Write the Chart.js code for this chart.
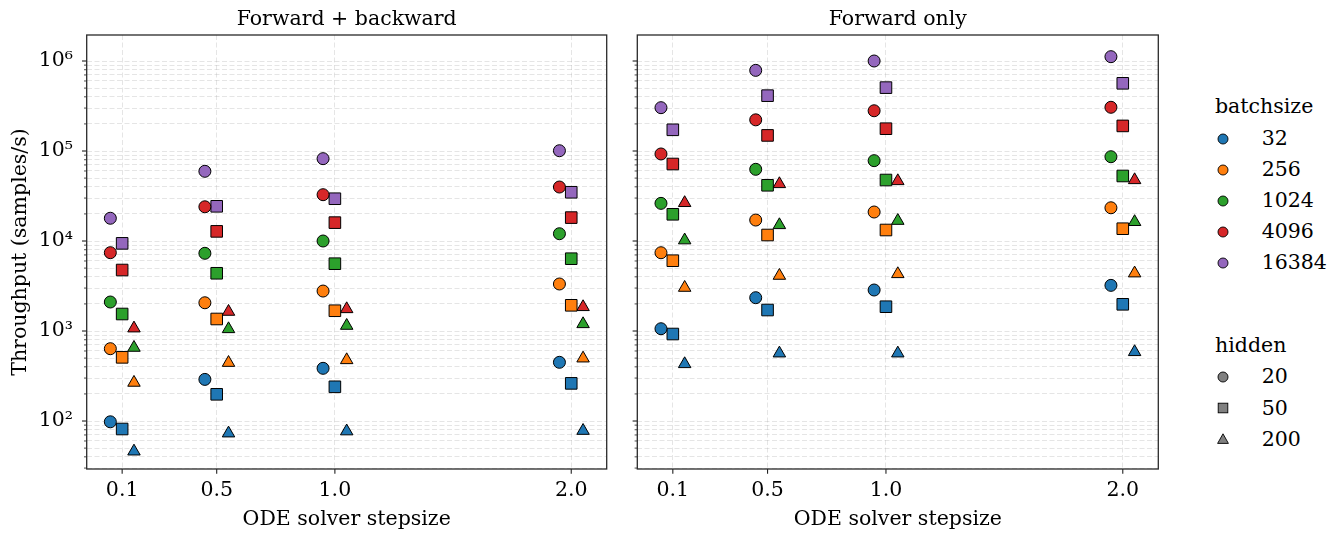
<!DOCTYPE html>
<html><head><meta charset="utf-8">
<script src="https://cdn.jsdelivr.net/npm/chart.js@4"></script>
<style>
html,body{margin:0;padding:0;background:#fff;}
body{width:1341px;height:533px;position:relative;overflow:hidden;font-family:"DejaVu Serif",serif;}
.cw{position:absolute;top:0;height:533px;}
.lt{position:absolute;font-size:20.5px;line-height:24px;color:#000;white-space:nowrap;}
.lm{position:absolute;}
</style></head><body>
<div class="cw" style="left:0;width:620px"><canvas id="c1"></canvas></div>
<div class="cw" style="left:620px;width:560px"><canvas id="c2"></canvas></div>
<div id="legend"></div>
<script>
// ---------------- data ----------------
const stepsizes = [0.1, 0.5, 1.0, 2.0];
const batchsizes = [32, 256, 1024, 4096, 16384];
const hiddenSizes = [20, 50, 200];
const panelTitles = ['Forward + backward', 'Forward only'];
const xAxisTitle = 'ODE solver stepsize';
const yAxisTitle = 'Throughput (samples/s)';
const legendTitles = ['batchsize', 'hidden'];

// rows = batchsize (32..16384), columns = stepsize (0.1, 0.5, 1.0, 2.0)
const fbHidden20 = [
  [98, 290, 385, 449],
  [636, 2060, 2780, 3330],
  [2100, 7300, 10000, 12050],
  [7420, 24000, 32700, 39800],
  [17900, 59500, 82200, 100700]
];
const fbHidden50 = [
  [81.5, 198, 240, 262],
  [510, 1360, 1680, 1930],
  [1545, 4380, 5600, 6360],
  [4760, 12800, 16000, 18200],
  [9420, 24300, 29500, 34800]
];
const fbHidden200 = [
  [46, 73, 77, 78],
  [267, 444, 476, 497],
  [653, 1052, 1146, 1196],
  [1072, 1640, 1755, 1850],
  [null, null, null, null]
];
const foHidden20 = [
  [1060, 2345, 2855, 3215],
  [7410, 17100, 21000, 23400],
  [26200, 62600, 78100, 86400],
  [92700, 222000, 280000, 306000],
  [303000, 787000, 1000000, 1117000]
];
const foHidden50 = [
  [926, 1711, 1862, 1980],
  [6040, 11660, 13250, 13700],
  [19800, 41600, 47600, 52800],
  [71700, 149000, 177000, 190000],
  [172000, 412000, 506000, 565000]
];
const foHidden200 = [
  [430, 565, 565, 585],
  [3030, 4120, 4300, 4380],
  [10200, 15060, 16800, 16300],
  [26500, 43000, 46400, 47600],
  [null, null, null, null]
];

// ---------------- style ----------------
const colors = ['#1f77b4', '#ff7f0e', '#2ca02c', '#d62728', '#9467bd'];
const styles = ['circle', 'rect', 'triangle'];
const radii = [6.0, 8.2, 7.2];
const xOffsets = [-0.05, 0, 0.05];
const FONT = {family: 'DejaVu Serif', size: 20.5, lineHeight: 1.2, weight: 'normal'};
const Y_MIN = 29.3, Y_MAX = 1.945e6;
const X_MIN = -0.05, X_MAX = 2.15;
const GRID = 'rgba(170,170,170,0.38)';
const SUP = {'0':'⁰','1':'¹','2':'²','3':'³','4':'⁴','5':'⁵','6':'⁶','7':'⁷','8':'⁸','9':'⁹'};

Chart.defaults.font.family = 'DejaVu Serif';
Chart.defaults.color = '#000';

function logTicks() {
  const t = [];
  for (let e = 1; e <= 6; e++) {
    for (let m = 1; m <= 9; m++) {
      const v = m * Math.pow(10, e);
      if (v >= Y_MIN && v <= Y_MAX) t.push({value: v, major: m === 1, exp: e});
    }
  }
  return t;
}

function makeDatasets(panel) {
  const ds = [];
  panel.forEach((mat, h) => {
    batchsizes.forEach((b, bi) => {
      const pts = [];
      stepsizes.forEach((s, si) => {
        const v = mat[bi][si];
        if (v !== null) pts.push({x: s + xOffsets[h], y: v});
      });
      if (!pts.length) return;
      ds.push({
        label: b + ' / ' + hiddenSizes[h],
        data: pts,
        pointStyle: styles[h],
        pointRadius: radii[h],
        backgroundColor: colors[bi],
        borderColor: '#000',
        borderWidth: 1,
        showLine: false
      });
    });
  });
  return ds;
}

const framePlugin = {
  id: 'frame',
  afterDraw(chart) {
    const {ctx, chartArea: a} = chart;
    const x = chart.scales.x, y = chart.scales.y;
    ctx.save();
    ctx.strokeStyle = '#222';
    y.ticks.forEach(t => {
      const py = y.getPixelForValue(t.value);
      const len = t.major ? 4.7 : 2.7;
      ctx.lineWidth = t.major ? 1.1 : 0.8;
      ctx.beginPath(); ctx.moveTo(a.left - len, py); ctx.lineTo(a.left, py); ctx.stroke();
    });
    x.ticks.forEach(t => {
      const px = x.getPixelForValue(t.value);
      ctx.lineWidth = 1.1;
      ctx.beginPath(); ctx.moveTo(px, a.bottom); ctx.lineTo(px, a.bottom + 4.7); ctx.stroke();
    });
    ctx.strokeStyle = '#2a2a2a';
    ctx.lineWidth = 1.3;
    ctx.strokeRect(a.left, a.top, a.right - a.left, a.bottom - a.top);
    ctx.restore();
  }
};

function makeChart(id, panel, title, showY, pad, yWidth) {
  return new Chart(document.getElementById(id), {
    type: 'scatter',
    data: {datasets: makeDatasets(panel)},
    plugins: [framePlugin],
    options: {
      responsive: true,
      maintainAspectRatio: false,
      animation: false,
      events: [],
      layout: {padding: pad},
      plugins: {
        legend: {display: false},
        tooltip: {enabled: false},
        title: {display: true, text: title, fullSize: false, font: FONT, color: '#000',
                padding: {top: 7.4, bottom: 3}}
      },
      scales: {
        x: {
          type: 'linear', min: X_MIN, max: X_MAX,
          afterBuildTicks: s => { s.ticks = stepsizes.map(v => ({value: v})); },
          afterFit: s => { s.height = 63; },
          ticks: {autoSkip: false, maxRotation: 0, padding: 9, font: FONT, color: '#000',
                  callback: v => Number(v).toFixed(1)},
          grid: {drawTicks: false, color: GRID, lineWidth: 0.8},
          border: {display: false, dash: [5, 2.5]},
          title: {display: true, text: xAxisTitle, font: FONT, color: '#000', padding: 0}
        },
        y: {
          type: 'logarithmic', min: Y_MIN, max: Y_MAX,
          afterBuildTicks: s => { s.ticks = logTicks(); },
          afterFit: s => { s.width = yWidth; },
          ticks: {display: showY, autoSkip: false, padding: 13.7, font: FONT, color: '#000',
                  callback: (v, i, ts) => ts[i] && ts[i].major ? '10' + SUP[String(ts[i].exp)] : ''},
          grid: {drawTicks: false, color: GRID, lineWidth: 0.8},
          border: {display: false, dash: [5, 2.5]},
          title: {display: showY, text: yAxisTitle, font: FONT, color: '#000', padding: 0}
        }
      }
    }
  });
}

makeChart('c1', [fbHidden20, fbHidden50, fbHidden200], panelTitles[0], true,
          {left: 8, right: 13.3, top: 0, bottom: 1}, 78.7);
makeChart('c2', [foHidden20, foHidden50, foHidden200], panelTitles[1], false,
          {left: 0, right: 21.7, top: 0, bottom: 1}, 17.3);

// ---------------- legend (HTML) ----------------
(function () {
  const L = document.getElementById('legend');
  const BASE = 19.1; // baseline offset inside a 24px line box
  function text(str, x, baseline) {
    const d = document.createElement('div');
    d.className = 'lt';
    d.style.left = x + 'px';
    d.style.top = (baseline - BASE) + 'px';
    d.textContent = str;
    L.appendChild(d);
  }
  function marker(style, color, cx, cy) {
    const s = 16;
    const ns = 'http://www.w3.org/2000/svg';
    const svg = document.createElementNS(ns, 'svg');
    svg.setAttribute('width', s); svg.setAttribute('height', s);
    svg.setAttribute('class', 'lm');
    svg.style.left = (cx - s / 2) + 'px';
    svg.style.top = (cy - s / 2) + 'px';
    let el;
    if (style === 'circle') {
      el = document.createElementNS(ns, 'circle');
      el.setAttribute('cx', 8); el.setAttribute('cy', 8); el.setAttribute('r', 5);
    } else if (style === 'rect') {
      el = document.createElementNS(ns, 'rect');
      el.setAttribute('x', 3.2); el.setAttribute('y', 3.2); el.setAttribute('width', 9.6); el.setAttribute('height', 9.6);
    } else {
      el = document.createElementNS(ns, 'polygon');
      el.setAttribute('points', '8,2.8 13.4,12.4 2.6,12.4');
    }
    el.setAttribute('fill', color); el.setAttribute('stroke', '#000'); el.setAttribute('stroke-width', '0.9');
    svg.appendChild(el);
    L.appendChild(svg);
  }
  text(legendTitles[0], 1215, 113.3);
  batchsizes.forEach((b, i) => {
    const bl = 145 + i * 31.1;
    text(String(b), 1261.7, bl);
    marker('circle', colors[i], 1223.3, bl - 6.2);
  });
  text(legendTitles[1], 1215, 352.3);
  hiddenSizes.forEach((h, i) => {
    const bl = 383.5 + i * 31.1;
    text(String(h), 1261.7, bl);
    marker(styles[i], '#808080', 1223.3, bl - 6.6);
  });
})();
</script>
</body></html>
